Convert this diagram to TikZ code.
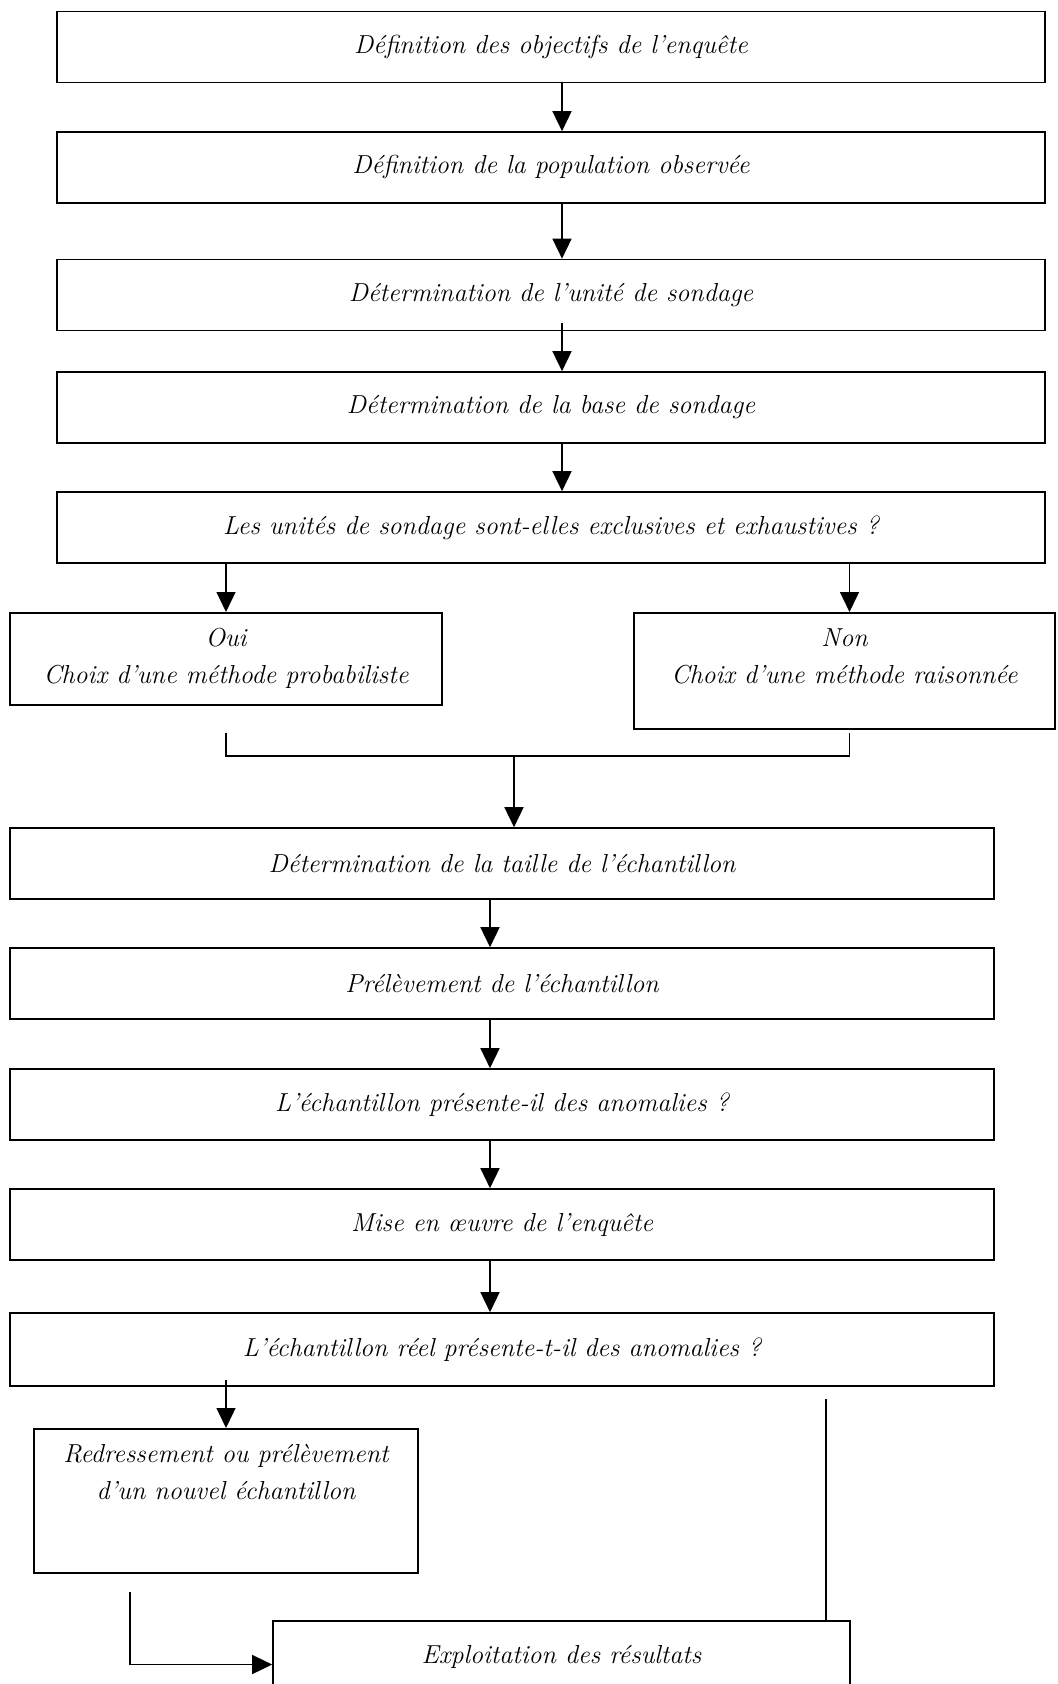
\documentclass[tikz,border=0pt]{standalone}
\usetikzlibrary{arrows.meta}

\begin{document}
\begin{tikzpicture}[x=0.5pt,y=-0.5pt,
  box/.style={draw, line width=0.8pt, minimum width=#1, minimum height=35.5pt, inner sep=0pt, font=\fontsize{13}{18.5}\selectfont\itshape},
  haut/.style={text height=17pt, text depth=#1},
  fleche/.style={-{Triangle[length=10pt,width=9.5pt]}, line width=0.7pt}]
\useasboundingbox (0,0) rectangle (1057,1684);
\node[box=494pt] (1) at (551,47) {Définition des objectifs de l’enquête};
\node[box=494pt] (2) at (551,167.5) {Définition de la population observée};
\node[box=494pt] (3) at (551,295) {Détermination de l’unité de sondage};
\node[box=494pt] (4) at (551,407.5) {Détermination de la base de sondage};
\node[box=494pt] (5) at (551,527.5) {Les unités de sondage sont-elles exclusives et exhaustives ?};
\node[box=216pt, haut=29pt, anchor=north] (oui) at (226,612) {\begin{tabular}[t]{c}Oui\\Choix d’une méthode probabiliste\end{tabular}};
\node[box=210.5pt, haut=41pt, anchor=north] (non) at (844.5,612) {\begin{tabular}[t]{c}Non\\Choix d’une méthode raisonnée\end{tabular}};
\node[box=492pt] (6) at (502,863.5) {Détermination de la taille de l’échantillon};
\node[box=492pt] (7) at (502,983.5) {Prélèvement de l’échantillon};
\node[box=492pt] (8) at (502,1104.5) {L’échantillon présente-il des anomalies ?};
\node[box=492pt] (9) at (502,1224.5) {Mise en œuvre de l’enquête};
\node[box=492pt, minimum height=36.5pt] (10) at (502,1349.5) {L’échantillon réel présente-t-il des anomalies ?};
\node[box=192pt, haut=55pt, anchor=north] (red) at (226,1428) {\begin{tabular}[t]{c}Redressement ou prélèvement\\d’un nouvel échantillon\end{tabular}};
\node[box=288.5pt] (14) at (561.5,1656.5) {Exploitation des résultats};
\coordinate (j) at (514,756);
\coordinate (a) at ([xshift=2.5pt,yshift=-1.5pt]non.south);
\coordinate (r) at (826,1399);
\coordinate (s) at (130,1592);
\draw[fleche] ([xshift=5.5pt]1.south) -- ([xshift=5.5pt]2.north);
\draw[fleche] ([xshift=5.5pt]2.south) -- ([xshift=5.5pt]3.north);
\draw[fleche] ([xshift=5.5pt,yshift=4pt]3.south) -- ([xshift=5.5pt]4.north);
\draw[fleche] ([xshift=5.5pt]4.south) -- ([xshift=5.5pt]5.north);
\draw[fleche] (5.south -| oui.north) -- (oui.north);
\draw[fleche] ([xshift=2.5pt]5.south -| non.north) -- ([xshift=2.5pt]non.north);
\draw[line width=0.7pt] (a -| oui.south) |- (j) -| (a);
\draw[fleche] (j) -- (j |- 6.north);
\draw[fleche] ([xshift=-6pt]6.south) -- ([xshift=-6pt]7.north);
\draw[fleche] ([xshift=-6pt]7.south) -- ([xshift=-6pt]8.north);
\draw[fleche] ([xshift=-6pt]8.south) -- ([xshift=-6pt]9.north);
\draw[fleche] ([xshift=-6pt]9.south) -- ([xshift=-6pt]10.north);
\draw[fleche] ([yshift=3.5pt]10.south -| red.north) -- (red.north);
\draw[line width=0.7pt] (r) -- (r |- 14.north);
\draw[fleche] (s) |- ([yshift=-4pt]14.west);
\end{tikzpicture}
\end{document}
